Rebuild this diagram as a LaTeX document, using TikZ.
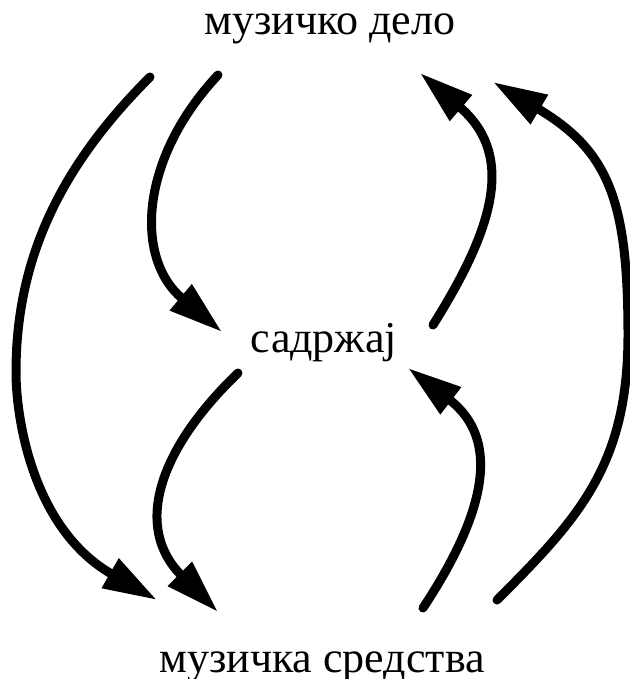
\documentclass[tikz,border=0pt]{standalone}
\usepackage{fontspec}
\setmainfont{Liberation Serif}
\usetikzlibrary{arrows.meta}
\tikzset{
  flow/.style={line width=4.5pt,line cap=round,-{Triangle[length=27pt,width=16pt]}},
  lbl/.style={anchor=base,inner sep=0pt,font=\fontsize{22}{26}\selectfont}
}

\begin{document}
\begin{tikzpicture}[x=0.5pt,y=-0.5pt]
  \useasboundingbox (0,0) rectangle (630,679);
  \node[lbl] (delo) at (330,35) {музичко дело};
  \node[lbl] (sadrzaj) at (324,352) {садржај};
  \node[lbl] (sredstva) at (322,672) {музичка средства};

  \coordinate (l1s) at (150,77);  \coordinate (l1m) at (16,372);  \coordinate (l1e) at (157,600);
  \coordinate (l2s) at (218,75);  \coordinate (l2e) at (222,332);
  \coordinate (l3s) at (238,373); \coordinate (l3e) at (218,612);
  \coordinate (r1s) at (423,608); \coordinate (r1e) at (408,368);
  \coordinate (r2s) at (433,325); \coordinate (r2e) at (420,73);
  \coordinate (r3s) at (497,600); \coordinate (r3m) at (628,335); \coordinate (r3e) at (493,82);

  \draw[flow] (l1s) .. controls (67,160) and (16,251) .. (l1m)
    .. controls (16,419) and (33,529) .. (l1e);
  \draw[flow] (l2s) .. controls (140,158) and (134,258) .. (l2e);
  \draw[flow] (l3s) .. controls (157,451) and (134,528) .. (l3e);
  \draw[flow] (r1s) .. controls (485,514) and (502,440) .. (r1e);
  \draw[flow] (r2s) .. controls (492,231) and (517,156) .. (r2e);
  \draw[flow] (r3s) .. controls (579,518) and (628,465) .. (r3m)
    .. controls (628,201) and (609,151) .. (r3e);
\end{tikzpicture}
\end{document}
